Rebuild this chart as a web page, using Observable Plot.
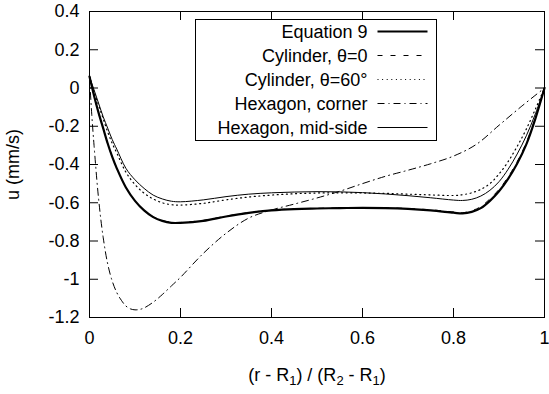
<!DOCTYPE html>
<html><head><meta charset="utf-8">
<script src="https://cdn.jsdelivr.net/npm/d3@7"></script>
<script src="https://cdn.jsdelivr.net/npm/@observablehq/plot@0.6"></script>
<style>
html,body{margin:0;padding:0;background:#fff;}
#chart{width:549px;height:394px;}
</style></head><body><div id="chart"></div>
<script>
// ---- data ----
const xGrid = [0, 0.01, 0.02, 0.03, 0.04, 0.05, 0.06, 0.08, 0.10, 0.12, 0.14, 0.16, 0.18, 0.20, 0.25, 0.30, 0.35, 0.40, 0.45, 0.50, 0.55, 0.60, 0.65, 0.70, 0.75, 0.80, 0.82, 0.84, 0.86, 0.88, 0.90, 0.92, 0.94, 0.96, 0.98, 1.00];
const eq9    = [0.06, -0.04, -0.13, -0.21, -0.29, -0.36, -0.42, -0.52, -0.59, -0.64, -0.675, -0.695, -0.705, -0.705, -0.695, -0.672, -0.653, -0.640, -0.633, -0.630, -0.628, -0.627, -0.628, -0.632, -0.640, -0.652, -0.656, -0.648, -0.628, -0.59, -0.54, -0.475, -0.395, -0.295, -0.16, 0];
const cyl0   = [0.06, -0.04, -0.13, -0.21, -0.29, -0.36, -0.42, -0.52, -0.59, -0.64, -0.673, -0.693, -0.702, -0.703, -0.692, -0.670, -0.651, -0.639, -0.632, -0.629, -0.627, -0.626, -0.627, -0.630, -0.637, -0.648, -0.652, -0.642, -0.62, -0.58, -0.53, -0.465, -0.385, -0.285, -0.155, 0];
const cyl60  = [0.06, -0.02, -0.09, -0.16, -0.23, -0.29, -0.34, -0.44, -0.505, -0.55, -0.58, -0.60, -0.61, -0.612, -0.603, -0.585, -0.57, -0.56, -0.553, -0.549, -0.548, -0.549, -0.551, -0.555, -0.559, -0.562, -0.558, -0.548, -0.53, -0.5, -0.45, -0.385, -0.305, -0.215, -0.11, 0];
const hexMid = [0.06, -0.01, -0.08, -0.15, -0.21, -0.27, -0.32, -0.42, -0.48, -0.525, -0.56, -0.58, -0.592, -0.595, -0.585, -0.568, -0.555, -0.548, -0.544, -0.542, -0.543, -0.547, -0.554, -0.563, -0.574, -0.586, -0.588, -0.582, -0.565, -0.535, -0.49, -0.425, -0.345, -0.25, -0.135, 0];
const xCorner   = [0, 0.005, 0.01, 0.02, 0.03, 0.04, 0.05, 0.06, 0.07, 0.08, 0.09, 0.10, 0.11, 0.12, 0.14, 0.16, 0.18, 0.20, 0.25, 0.30, 0.35, 0.40, 0.45, 0.50, 0.55, 0.60, 0.65, 0.70, 0.75, 0.80, 0.85, 0.90, 0.95, 1.00];
const hexCorner = [0.06, -0.14, -0.3, -0.58, -0.78, -0.92, -1.01, -1.07, -1.11, -1.14, -1.155, -1.16, -1.158, -1.15, -1.12, -1.08, -1.035, -0.99, -0.865, -0.76, -0.68, -0.638, -0.607, -0.575, -0.54, -0.5, -0.462, -0.43, -0.396, -0.356, -0.295, -0.195, -0.095, 0];

const seriesNames = ["Equation 9", "Cylinder, θ=0", "Cylinder, θ=60°", "Hexagon, corner", "Hexagon, mid-side"];
const xTicks = [0, 0.2, 0.4, 0.6, 0.8, 1];
const yTicks = [-1.2, -1, -0.8, -0.6, -0.4, -0.2, 0, 0.2, 0.4];
const xLabelParts = [["(r - R", false], ["1", true], [") / (R", false], ["2", true], [" - R", false], ["1", true], [")", false]];
const yLabel = "u (mm/s)";

// ---- styling (not data) ----
const lineStyles = [
  {strokeWidth: 2.2, dash: null},
  {strokeWidth: 1, dash: "5,8"},
  {strokeWidth: 1.2, dash: "1,3.6"},
  {strokeWidth: 1, dash: "7,4,1,4"},
  {strokeWidth: 1, dash: null}
];

const seriesX = [xGrid, xGrid, xGrid, xCorner, xGrid];
const seriesY = [eq9, cyl0, cyl60, hexCorner, hexMid];
const tables = seriesNames.map((name, i) => seriesX[i].map((x, j) => ({name, x, y: seriesY[i][j]})));

const fmt = d => String(+d.toFixed(1));
const W = 549, H = 394, mL = 89, mR = 5, mT = 11, mB = 77;
const tickLen = 9;
const innerW = W - mL - mR, innerH = H - mT - mB;
const FS = 18;

const plot = Plot.plot({
  width: W, height: H,
  marginLeft: mL, marginRight: mR, marginTop: mT, marginBottom: mB,
  style: {fontFamily: "'Liberation Sans', Arial, sans-serif", fontSize: FS + "px", color: "#000", background: "#fff"},
  x: {domain: [0, 1]},
  y: {domain: [-1.2, 0.4]},
  marks: [
    Plot.axisX(xTicks, {tickSize: 0, tickPadding: 14, tickFormat: fmt, label: xLabelParts.map(p => p[0]).join(""), labelAnchor: "center", labelOffset: 63, labelArrow: "none", fontSize: FS}),
    Plot.axisY(yTicks, {tickSize: 0, tickPadding: 10, tickFormat: fmt, label: yLabel, labelAnchor: "center", labelOffset: 83, labelArrow: "none", fontSize: FS}),
    Plot.tickX(xTicks, {x: d => d, insetTop: innerH - tickLen, stroke: "#000"}),
    Plot.tickX(xTicks, {x: d => d, insetBottom: innerH - tickLen, stroke: "#000"}),
    Plot.tickY(yTicks, {y: d => d, insetRight: innerW - tickLen, stroke: "#000"}),
    Plot.tickY(yTicks, {y: d => d, insetLeft: innerW - tickLen, stroke: "#000"}),
    ...tables.map((t, i) => Plot.line(t, {x: "x", y: "y", curve: "catmull-rom", stroke: "#000",
      strokeWidth: lineStyles[i].strokeWidth, strokeDasharray: lineStyles[i].dash})),
    Plot.frame({stroke: "#000", strokeWidth: 1})
  ]
});

// subscripts in the x label
const ns = "http://www.w3.org/2000/svg";
const joined = xLabelParts.map(p => p[0]).join("");
for (const t of plot.querySelectorAll("text")) {
  if (t.textContent === joined) {
    t.textContent = "";
    for (const [s, sub] of xLabelParts) {
      const ts = document.createElementNS(ns, "tspan");
      ts.textContent = s;
      if (sub) { ts.setAttribute("baseline-shift", "-4"); ts.setAttribute("font-size", "13px"); }
      t.appendChild(ts);
    }
  }
}

// legend box (gnuplot style, inside plot)
const svg = d3.select(plot);
const lg = svg.append("g").attr("font-family", "'Liberation Sans', Arial, sans-serif").attr("font-size", FS);
const lgX = 195.5, lgY = 19.5, lgW = 241, lgH = 121, rowH = 24;
lg.append("rect").attr("x", lgX).attr("y", lgY).attr("width", lgW).attr("height", lgH)
  .attr("fill", "none").attr("stroke", "#000");
seriesNames.forEach((n, i) => {
  const cy = lgY + 12 + rowH * i;
  lg.append("text").attr("x", lgX + 172).attr("y", cy).attr("dy", "0.35em").attr("text-anchor", "end").attr("fill", "#000").text(n);
  const ln = lg.append("line").attr("x1", lgX + 182).attr("x2", lgX + 232).attr("y1", cy).attr("y2", cy)
    .attr("stroke", "#000").attr("stroke-width", lineStyles[i].strokeWidth);
  if (lineStyles[i].dash) ln.attr("stroke-dasharray", lineStyles[i].dash);
});

document.getElementById("chart").appendChild(plot);
</script></body></html>
